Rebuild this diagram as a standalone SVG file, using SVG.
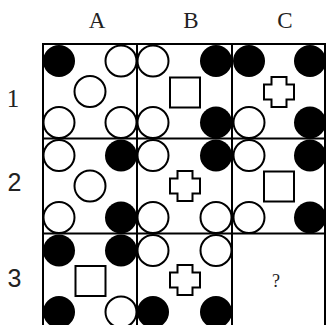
<svg xmlns="http://www.w3.org/2000/svg" xmlns:xlink="http://www.w3.org/1999/xlink" width="326" height="325" viewBox="0 0 326 325">
<style>
.w{fill:#fff;stroke:#000;stroke-width:2}
.b{fill:#000}
.sq{fill:#fff;stroke:#000;stroke-width:2}
.grid{fill:none;stroke:#000;stroke-width:2}
.lab{font-family:"Liberation Serif",serif;fill:#222}
.labs{font-family:"Liberation Sans",sans-serif;fill:#222}
</style>
<defs>
<polygon id="cross" points="-7.5,-15 7.5,-15 7.5,-7.5 15,-7.5 15,7.5 7.5,7.5 7.5,15 -7.5,15 -7.5,7.5 -15,7.5 -15,-7.5 -7.5,-7.5" fill="#fff" stroke="#000" stroke-width="2"/>
</defs>
<rect width="326" height="325" fill="#fff"/>
<g id="labels">
<text class="lab" x="97" y="28" font-size="23" text-anchor="middle">A</text>
<text class="lab" x="191" y="28" font-size="23" text-anchor="middle">B</text>
<text class="lab" x="285" y="28" font-size="23" text-anchor="middle">C</text>
<text class="lab" x="13" y="106.5" font-size="25" text-anchor="middle">1</text>
<text class="labs" x="14.5" y="191" font-size="25" text-anchor="middle">2</text>
<text class="labs" x="14.5" y="286.5" font-size="25" text-anchor="middle">3</text>
</g>
<g id="grid">
<rect class="grid" x="43" y="44" width="282" height="284"/>
<line class="grid" x1="137" y1="44" x2="137" y2="328"/>
<line class="grid" x1="232" y1="44" x2="232" y2="328"/>
<line class="grid" x1="43" y1="138.5" x2="325" y2="138.5"/>
<line class="grid" x1="43" y1="233.5" x2="325" y2="233.5"/>
</g>
<g id="A1">
<circle class="b" cx="59" cy="61" r="16"/>
<circle class="w" cx="121" cy="61" r="15.5"/>
<circle class="w" cx="90" cy="91.5" r="15.5"/>
<circle class="w" cx="59" cy="122.5" r="15.5"/>
<circle class="w" cx="121" cy="122.5" r="15.5"/>
</g>
<g id="B1">
<circle class="w" cx="153" cy="61" r="15.5"/>
<circle class="b" cx="216" cy="61" r="16"/>
<rect class="sq" x="170" y="77.5" width="30" height="30"/>
<circle class="w" cx="153" cy="122.5" r="15.5"/>
<circle class="b" cx="216" cy="122.5" r="16"/>
</g>
<g id="C1">
<circle class="b" cx="249" cy="61" r="16"/>
<circle class="b" cx="310" cy="61" r="16"/>
<use xlink:href="#cross" x="279" y="92"/>
<circle class="w" cx="249" cy="122.5" r="15.5"/>
<circle class="b" cx="310" cy="122.5" r="16"/>
</g>
<g id="A2">
<circle class="w" cx="59" cy="155.5" r="15.5"/>
<circle class="b" cx="121" cy="155.5" r="16"/>
<circle class="w" cx="90" cy="186" r="15.5"/>
<circle class="w" cx="59" cy="217.5" r="15.5"/>
<circle class="b" cx="121" cy="217.5" r="16"/>
</g>
<g id="B2">
<circle class="w" cx="153" cy="155.5" r="15.5"/>
<circle class="b" cx="216" cy="155.5" r="16"/>
<use xlink:href="#cross" x="185" y="186"/>
<circle class="w" cx="153" cy="217.5" r="15.5"/>
<circle class="w" cx="216" cy="217.5" r="15.5"/>
</g>
<g id="C2">
<circle class="w" cx="249" cy="155.5" r="15.5"/>
<circle class="b" cx="310" cy="155.5" r="16"/>
<rect class="sq" x="264" y="171.5" width="30" height="30"/>
<circle class="w" cx="249" cy="217.5" r="15.5"/>
<circle class="b" cx="310" cy="217.5" r="16"/>
</g>
<g id="A3">
<circle class="b" cx="59" cy="250.5" r="16"/>
<circle class="b" cx="121" cy="250.5" r="16"/>
<rect class="sq" x="75.5" y="266" width="30" height="30"/>
<circle class="b" cx="59" cy="312" r="16"/>
<circle class="w" cx="121" cy="312" r="15.5"/>
</g>
<g id="B3">
<circle class="w" cx="153" cy="250.5" r="15.5"/>
<circle class="w" cx="216" cy="250.5" r="15.5"/>
<use xlink:href="#cross" x="185" y="280"/>
<circle class="b" cx="153" cy="312" r="16"/>
<circle class="b" cx="216" cy="312" r="16"/>
</g>
<g id="C3">
<text class="lab" x="276" y="287" font-size="18" text-anchor="middle">?</text>
</g>
</svg>
